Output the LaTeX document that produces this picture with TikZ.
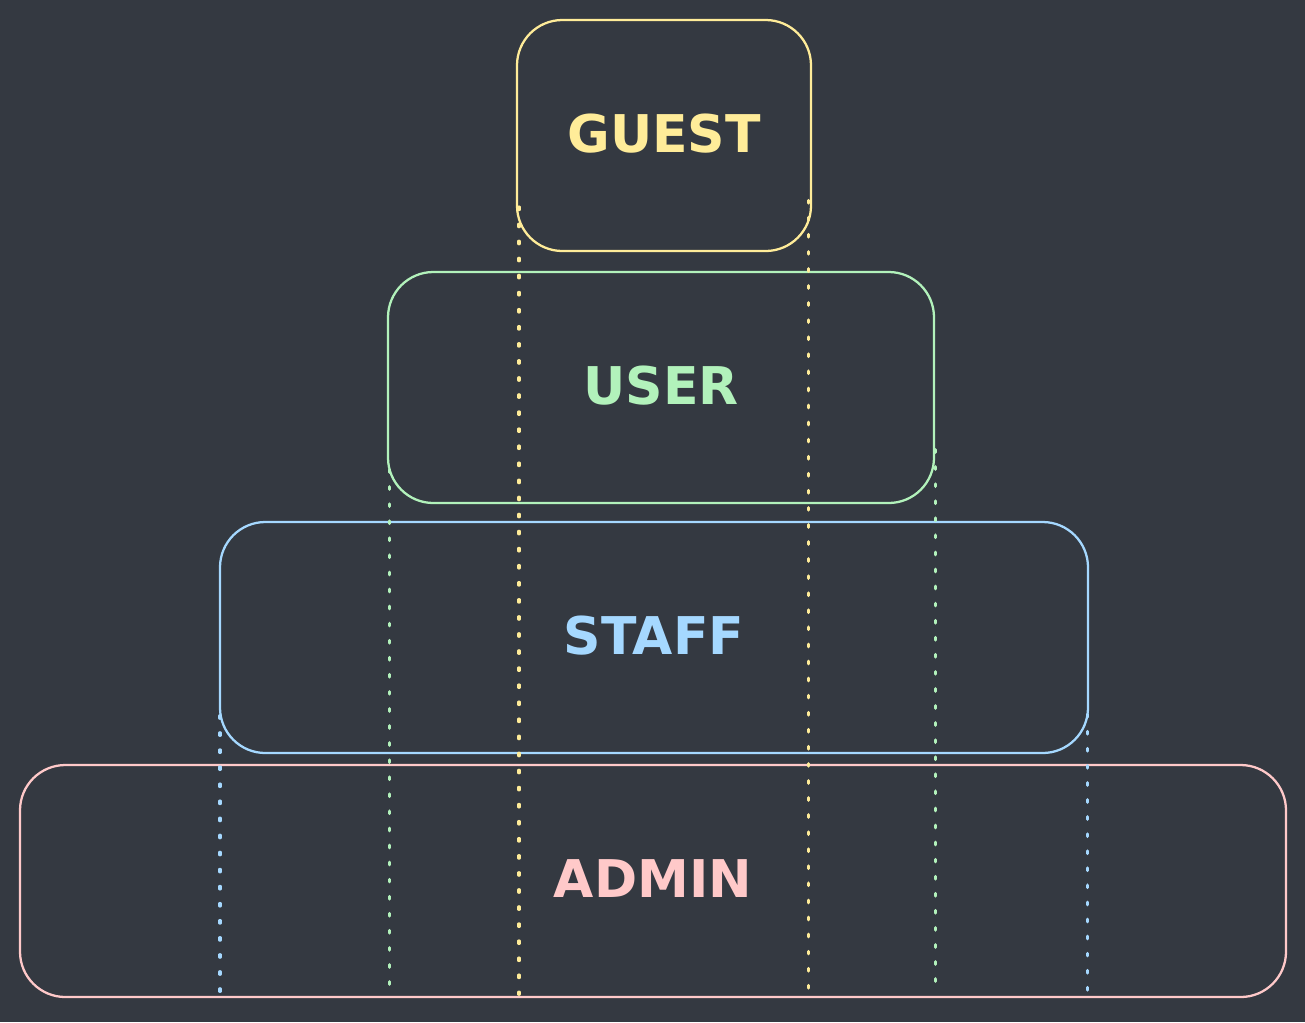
\documentclass[tikz,border=0pt]{standalone}
\usepackage{fontspec}
\setmainfont{DejaVu Sans}
\definecolor{board}{RGB}{52,57,65}
\definecolor{guestcol}{HTML}{FFEC99}
\definecolor{usercol}{HTML}{B2F2BB}
\definecolor{staffcol}{HTML}{A5D8FF}
\definecolor{admincol}{HTML}{FFC9C9}
\tikzset{
	tier/.style={draw=#1, text=#1, line width=1.7pt, rounded corners=34pt,
		minimum height=173.25pt, inner sep=0pt, outer sep=0pt, text depth=4pt,
		font=\fontsize{39}{46}\selectfont\bfseries},
	guide/.style={draw=#1, line width=2.3pt, line cap=round, dash pattern=on 2pt off 10.8pt}
}
\begin{document}
\begin{tikzpicture}[x=0.75pt,y=-0.75pt]
			\fill[board] (0,0) rectangle (1305,1022);
			\node[tier=admincol, minimum width=949.5pt, minimum height=174pt] (admin) at (653,881) {ADMIN};
			\node[tier=staffcol, minimum width=651pt] (staff) at (654,637.5) {STAFF};
			\node[tier=usercol, minimum width=409.5pt] (user) at (661,387.5) {USER};
			\node[tier=guestcol, minimum width=220.5pt] (guest) at (664,135.5) {GUEST};
			\draw[guide=guestcol] ([xshift=1.5pt,yshift=33pt]guest.south west) -- ([xshift=1.5pt,yshift=2pt]guest.south west |- admin.south);
			\draw[guide=guestcol] ([xshift=-2pt,yshift=38pt]guest.south east) -- ([xshift=-2pt,yshift=2pt]guest.south east |- admin.south);
			\draw[guide=usercol] ([xshift=1pt,yshift=25pt]user.south west) -- ([xshift=1pt,yshift=9pt]user.south west |- admin.south);
			\draw[guide=usercol] ([xshift=1pt,yshift=40pt]user.south east) -- ([xshift=1pt,yshift=2pt]user.south east |- admin.south);
			\draw[guide=staffcol] ([yshift=28pt]staff.south west) -- ([yshift=3pt]staff.south west |- admin.south);
			\draw[guide=staffcol] ([xshift=-0.5pt,yshift=29pt]staff.south east) -- ([xshift=-0.5pt,yshift=5pt]staff.south east |- admin.south);
		\end{tikzpicture}
\end{document}
